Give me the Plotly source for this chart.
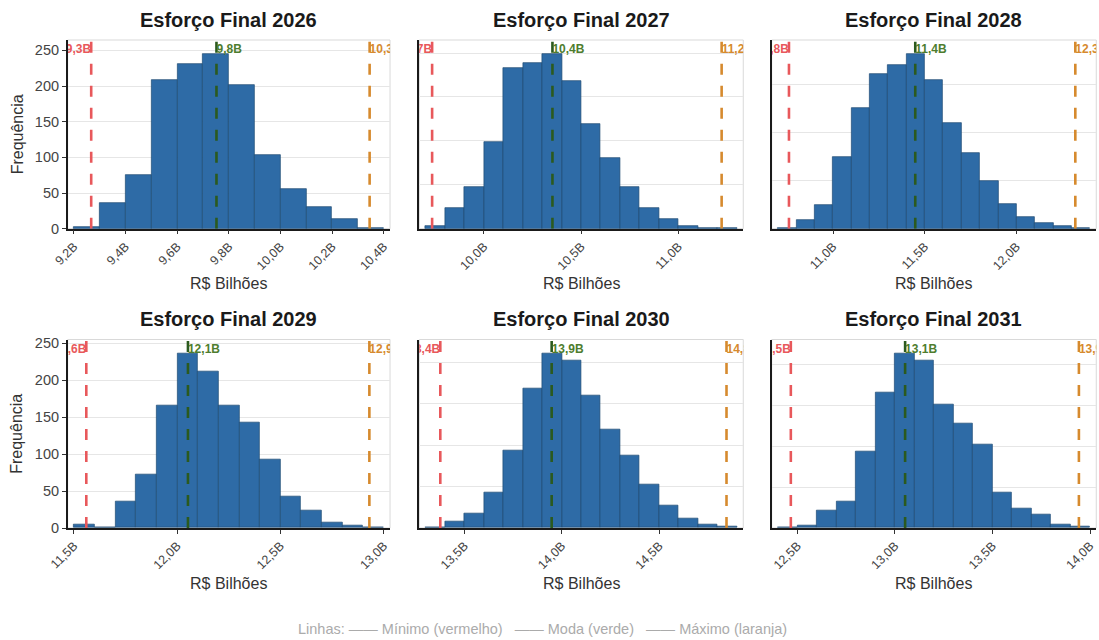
import plotly.graph_objects as go

# Simulated final effort distributions (R$ billions), 0.1B bins
years = [2026, 2027, 2028, 2029, 2030, 2031]
bin_width = 0.1
bin_start = [9.2, 9.7, 10.7, 11.5, 13.3, 12.4]

counts_2026 = [3, 36, 75, 208, 231, 245, 201, 103, 55, 30, 13, 1]
counts_2027 = [3, 24, 48, 99, 183, 189, 199, 168, 119, 80, 48, 24, 11, 3, 1, 1]
counts_2028 = [1, 9, 25, 75, 126, 161, 170, 182, 155, 110, 79, 50, 26, 12, 6, 3, 1]
counts_2029 = [5, 1, 36, 73, 166, 236, 211, 166, 143, 92, 43, 23, 7, 4, 1]
counts_2030 = [1, 8, 17, 43, 94, 169, 211, 202, 160, 119, 88, 53, 27, 11, 4, 2]
counts_2031 = [1, 3, 21, 32, 93, 165, 213, 204, 151, 127, 102, 43, 24, 17, 4, 2]
counts = [counts_2026, counts_2027, counts_2028, counts_2029, counts_2030, counts_2031]

# Reference lines per year
minimo = [9.267, 9.734, 10.76, 11.56, 13.376, 12.466]
moda = [9.752, 10.352, 11.448, 12.052, 13.948, 13.052]
maximo = [10.345, 11.221, 12.32, 12.93, 14.846, 13.943]

x_tick_vals = [
    [9.2, 9.4, 9.6, 9.8, 10.0, 10.2, 10.4],
    [10.0, 10.5, 11.0],
    [11.0, 11.5, 12.0],
    [11.5, 12.0, 12.5, 13.0],
    [13.5, 14.0, 14.5],
    [12.5, 13.0, 13.5, 14.0],
]
x_tick_text = [
    ["9,2B", "9,4B", "9,6B", "9,8B", "10,0B", "10,2B", "10,4B"],
    ["10,0B", "10,5B", "11,0B"],
    ["11,0B", "11,5B", "12,0B"],
    ["11,5B", "12,0B", "12,5B", "13,0B"],
    ["13,5B", "14,0B", "14,5B"],
    ["12,5B", "13,0B", "13,5B", "14,0B"],
]
y_tick_vals = [0, 50, 100, 150, 200, 250]

FONT = "Liberation Sans, Arial, sans-serif"
BAR_FILL = "#2E6BA6"
BAR_EDGE = "#1E4A73"
RED, GREEN_LINE, GREEN_TXT, ORANGE = "#E8585B", "#2B5A1E", "#4E7D2E", "#D68A2E"

col_domains = [(0.0616, 0.3549), (0.3815, 0.6763), (0.7022, 0.9975)]
row_domains = [(0.6427, 0.9375), (0.175, 0.4695)]


def fmt_b(v):
    return f"{v:.1f}".replace(".", ",") + "B"


fig = go.Figure()
layout = {}
annotations = []
shapes = []

for i, year in enumerate(years):
    r, c = divmod(i, 3)
    ax = "" if i == 0 else str(i + 1)
    xref, yref = "x" + ax, "y" + ax
    n = len(counts[i])
    lo = bin_start[i]
    hi = lo + n * bin_width
    centers = [lo + (k + 0.5) * bin_width for k in range(n)]
    ymax = max(counts[i]) * 1.08
    label_y = max(counts[i]) * 1.02

    fig.add_trace(go.Bar(
        x=centers, y=counts[i], width=bin_width,
        marker=dict(color=BAR_FILL, line=dict(color=BAR_EDGE, width=0.7)),
        xaxis=xref, yaxis=yref, showlegend=False, hoverinfo="skip",
    ))

    for val, lcol, tcol, pos in [
        (minimo[i], RED, RED, "middle left"),
        (moda[i], GREEN_LINE, GREEN_TXT, "middle right"),
        (maximo[i], ORANGE, ORANGE, "middle right"),
    ]:
        fig.add_trace(go.Scatter(
            x=[val, val], y=[0, ymax], mode="lines",
            line=dict(color=lcol, width=2.6, dash="11px,11px"),
            xaxis=xref, yaxis=yref, showlegend=False, hoverinfo="skip",
        ))
        # value label, clipped to the panel like the lines
        fig.add_trace(go.Scatter(
            x=[val], y=[label_y], mode="text", text=[f"<b>{fmt_b(val)}</b>"],
            textposition=pos, textfont=dict(family=FONT, size=12, color=tcol),
            cliponaxis=True, xaxis=xref, yaxis=yref, showlegend=False, hoverinfo="skip",
        ))

    span = hi - lo
    layout["xaxis" + ax] = dict(
        domain=list(col_domains[c]), anchor=yref,
        range=[lo - 0.02 * span, hi + 0.02 * span],
        tickvals=x_tick_vals[i], ticktext=x_tick_text[i], tickangle=-45,
        tickfont=dict(family=FONT, size=12.5, color="#444444"),
        ticks="outside", ticklen=4, tickcolor="#333333", tickwidth=1,
        showline=True, linecolor="#1A1A1A", linewidth=1.5,
        showgrid=False, zeroline=False, automargin=False,
    )
    layout["yaxis" + ax] = dict(
        domain=list(row_domains[r]), anchor=xref,
        range=[0, ymax], tickvals=y_tick_vals,
        showticklabels=(c == 0), ticks="outside" if c == 0 else "",
        ticklen=4, tickcolor="#333333",
        tickfont=dict(family=FONT, size=14.5, color="#444444"),
        showline=True, linecolor="#1A1A1A", linewidth=1.5,
        showgrid=True, gridcolor="#E6E6E6", gridwidth=1,
        zeroline=False, automargin=False,
    )

    # light panel frame
    shapes.append(dict(
        type="rect", xref=xref + " domain", yref=yref + " domain",
        x0=0, x1=1, y0=0, y1=1, line=dict(color="#D9D9D9", width=1), layer="below",
    ))

    # panel title and x-axis title
    xc = (col_domains[c][0] + col_domains[c][1]) / 2
    annotations.append(dict(
        text=f"<b>Esforço Final {year}</b>", x=xc, y=[0.968, 0.502][r],
        xref="paper", yref="paper", showarrow=False, xanchor="center", yanchor="middle",
        font=dict(family=FONT, size=20, color="#1A1A1A"),
    ))
    annotations.append(dict(
        text="R$ Bilhões", x=xc, y=[0.557, 0.088][r],
        xref="paper", yref="paper", showarrow=False, xanchor="center", yanchor="middle",
        font=dict(family=FONT, size=16, color="#333333"),
    ))

for r in range(2):
    yc = (row_domains[r][0] + row_domains[r][1]) / 2
    annotations.append(dict(
        text="Frequência", x=0.0155, y=yc, textangle=-90,
        xref="paper", yref="paper", showarrow=False, xanchor="center", yanchor="middle",
        font=dict(family=FONT, size=16, color="#333333"),
    ))

annotations.append(dict(
    text="Linhas: —— Mínimo (vermelho)   —— Moda (verde)   —— Máximo (laranja)",
    x=0.494, y=0.017, xref="paper", yref="paper", showarrow=False,
    xanchor="center", yanchor="middle",
    font=dict(family=FONT, size=14.5, color="#ABABAB"),
))

fig.update_layout(
    width=1099, height=640,
    margin=dict(l=0, r=0, t=0, b=0),
    paper_bgcolor="white", plot_bgcolor="white",
    bargap=0, showlegend=False,
    annotations=annotations, shapes=shapes,
    **layout,
)

fig.write_html("out.html")
